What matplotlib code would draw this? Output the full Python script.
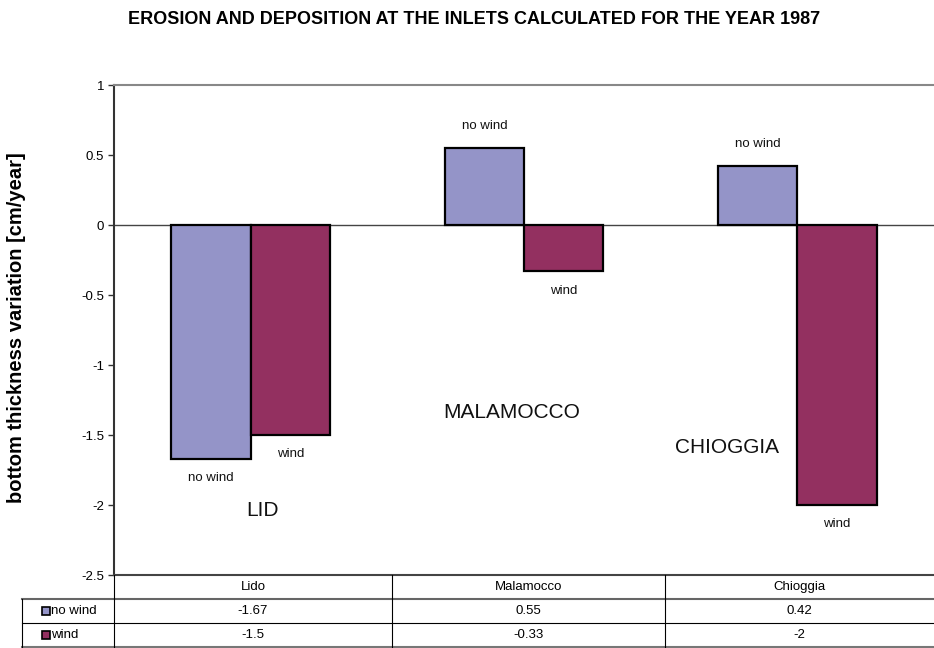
import numpy as np
import matplotlib
matplotlib.use("Agg")
import matplotlib.pyplot as plt
from matplotlib.patches import Rectangle
from matplotlib.lines import Line2D

plt.rcParams["font.family"] = ["Liberation Sans", "DejaVu Sans"]

inlets = ["Lido", "Malamocco", "Chioggia"]
series = ["no wind", "wind"]
no_wind = [-1.67, 0.55, 0.42]
wind = [-1.5, -0.33, -2]
inlet_tags = ["LID", "MALAMOCCO", "CHIOGGIA"]
tag_pos = [(0.045, -2.04), (0.956, -1.34), (1.743, -1.59)]

C_NOWIND = "#9494C8"
C_WIND = "#933060"
W, H = 934, 648


def fx(x):
    return x / W


def fy(y):
    return 1 - y / H


fig = plt.figure(figsize=(W / 100, H / 100), dpi=100, facecolor="white")
ax = fig.add_axes([fx(114), fy(575), fx(934) - fx(114), fy(85) - fy(575)])

x = np.arange(len(inlets))
bw = 0.29
b1 = ax.bar(x - bw / 2, no_wind, bw, color=C_NOWIND, edgecolor="black", linewidth=1.6, zorder=3)
b2 = ax.bar(x + bw / 2, wind, bw, color=C_WIND, edgecolor="black", linewidth=1.6, zorder=3)

for bars, vals, name in [(b1, no_wind, "no wind"), (b2, wind, "wind")]:
    for r, v in zip(bars, vals):
        off = 16 if v >= 0 else -14
        ax.annotate(name, (r.get_x() + r.get_width() / 2, v), xytext=(0, off),
                    textcoords="offset points", ha="center", va="center", fontsize=9.5, color="#111111")

for t, (tx, ty) in zip(inlet_tags, tag_pos):
    ax.text(tx, ty, t, ha="center", va="center", fontsize=15, color="#111111")

ax.set_xlim(-0.5, 2.5)
ax.set_ylim(-2.5, 1)
ax.set_yticks([1, 0.5, 0, -0.5, -1, -1.5, -2, -2.5])
ax.set_yticklabels(["1", "0.5", "0", "-0.5", "-1", "-1.5", "-2", "-2.5"])
ax.tick_params(axis="y", labelsize=9.5, length=4, width=1, color="#333333", pad=3)
ax.set_xticks([])
ax.axhline(0, color="#444444", lw=1, zorder=2)
ax.spines["right"].set_visible(False)
ax.spines["left"].set_color("#333333")
ax.spines["left"].set_linewidth(1.5)
ax.spines["top"].set_color("#888888")
ax.spines["top"].set_linewidth(1.5)
ax.spines["bottom"].set_color("#444444")
ax.spines["bottom"].set_linewidth(1.5)

fig.text(fx(474), fy(20), "EROSION AND DEPOSITION AT THE INLETS CALCULATED FOR THE YEAR 1987",
         ha="center", va="center", fontsize=13, fontweight="bold")
fig.text(fx(17), fy(328), "bottom thickness variation [cm/year]", rotation=90,
         ha="center", va="center", fontsize=14.5, fontweight="bold")

# data table under the plot
rows_y = [575, 599, 623, 647]
col_x = [114, 392, 665, 934]


def hline(y, x0, x1, c="#000000", lw=1.0):
    fig.add_artist(Line2D([fx(x0), fx(x1)], [fy(y), fy(y)], color=c, lw=lw))


def vline(xp, y0, y1, c="#000000", lw=1.0):
    fig.add_artist(Line2D([fx(xp), fx(xp)], [fy(y0), fy(y1)], color=c, lw=lw))


hline(rows_y[1], 22, 934, "#666666", 1.5)
hline(rows_y[2], 22, 934, "#000000", 0.8)
hline(rows_y[3], 22, 934, "#777777", 1.5)
vline(22, rows_y[1], rows_y[3], "#000000", 0.8)
for cx in col_x[:3]:
    vline(cx, rows_y[0], rows_y[3], "#000000", 0.8)

for i, name in enumerate(inlets):
    cx = (col_x[i] + col_x[i + 1]) / 2
    fig.text(fx(cx), fy((rows_y[0] + rows_y[1]) / 2), name, ha="center", va="center", fontsize=9.5)
    fig.text(fx(cx), fy((rows_y[1] + rows_y[2]) / 2), f"{no_wind[i]:g}", ha="center", va="center", fontsize=9.5)
    fig.text(fx(cx), fy((rows_y[2] + rows_y[3]) / 2), f"{wind[i]:g}", ha="center", va="center", fontsize=9.5)

for j, (name, c) in enumerate(zip(series, [C_NOWIND, C_WIND])):
    yc = (rows_y[j + 1] + rows_y[j + 2]) / 2
    fig.add_artist(Rectangle((fx(42), fy(yc + 4)), fx(8), fy(0) - fy(8),
                             facecolor=c, edgecolor="black", lw=1.2))
    fig.text(fx(51), fy(yc), name, ha="left", va="center", fontsize=9.5)

fig.savefig("out.png", dpi=100, facecolor="white")
